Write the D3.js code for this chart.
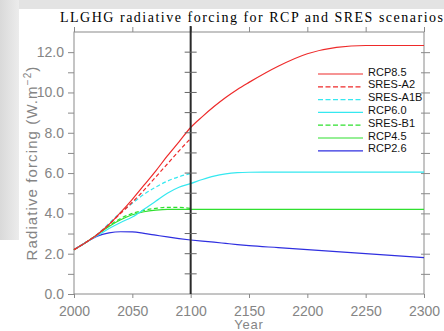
<!DOCTYPE html>
<html>
<head>
<meta charset="utf-8">
<script src="https://cdn.jsdelivr.net/npm/d3@7"></script>
<style>
  body { margin: 0; background: #fff; }
  svg { display: block; }
</style>
</head>
<body>
<svg id="chart" width="444" height="331"></svg>
<script>
// years for SRES (to 2100) and RCP (extended to 2300)
var years = [2000, 2010, 2020, 2030, 2040, 2050, 2060, 2070, 2080, 2090, 2100];
var yearsExt = [2110, 2120, 2130, 2140, 2150, 2175, 2200, 2225, 2250, 2275, 2300];
var rcpYears = years.concat(yearsExt);

var rcp85 = [2.2, 2.55, 2.95, 3.45, 4.05, 4.7, 5.4, 6.1, 6.85, 7.55, 8.26, 8.8, 9.3, 9.75, 10.15, 10.5, 11.3, 11.92, 12.24, 12.33, 12.33, 12.33];
var rcp60 = [2.2, 2.55, 2.9, 3.25, 3.55, 3.82, 4.2, 4.6, 5.0, 5.3, 5.48, 5.68, 5.85, 5.96, 6.02, 6.04, 6.05, 6.05, 6.05, 6.05, 6.05, 6.05];
var rcp45 = [2.2, 2.55, 2.95, 3.35, 3.68, 3.93, 4.08, 4.16, 4.2, 4.2, 4.2, 4.2, 4.2, 4.2, 4.2, 4.2, 4.2, 4.2, 4.2, 4.2, 4.2, 4.2];
var rcp26 = [2.2, 2.55, 2.87, 3.03, 3.09, 3.08, 3.01, 2.92, 2.83, 2.75, 2.68, 2.62, 2.57, 2.51, 2.45, 2.4, 2.3, 2.2, 2.1, 2.0, 1.9, 1.8];
var sresA2 = [2.2, 2.55, 2.95, 3.45, 4.0, 4.55, 5.15, 5.8, 6.45, 7.1, 7.72];
var sresA1B = [2.2, 2.55, 2.97, 3.5, 4.05, 4.5, 4.95, 5.3, 5.6, 5.82, 5.98];
var sresB1 = [2.2, 2.55, 2.95, 3.38, 3.75, 4.0, 4.15, 4.25, 4.3, 4.3, 4.25];

var xTicks = [2000, 2050, 2100, 2150, 2200, 2250, 2300];
var yTicks = [0, 1, 2, 3, 4, 5, 6, 7, 8, 9, 10, 11, 12];

var series = [
  {name: "RCP2.6",   x: rcpYears, v: rcp26,  color: "#2f2fe0", dash: null},
  {name: "RCP4.5",   x: rcpYears, v: rcp45,  color: "#2fe02f", dash: null},
  {name: "SRES-B1",  x: years,    v: sresB1, color: "#2fe02f", dash: "4,2.5"},
  {name: "RCP6.0",   x: rcpYears, v: rcp60,  color: "#35e8f0", dash: null},
  {name: "SRES-A1B", x: years,    v: sresA1B,color: "#35e8f0", dash: "4,2.5"},
  {name: "SRES-A2",  x: years,    v: sresA2, color: "#ee2a2a", dash: "4,2.5"},
  {name: "RCP8.5",   x: rcpYears, v: rcp85,  color: "#ee2a2a", dash: null}
];
var legendOrder = ["RCP8.5", "SRES-A2", "SRES-A1B", "RCP6.0", "SRES-B1", "RCP4.5", "RCP2.6"];

var svg = d3.select("#chart");

// page background (grey slide edge)
var defs = svg.append("defs");
var grad = defs.append("linearGradient").attr("id", "edge").attr("x1", 0).attr("x2", 1);
grad.append("stop").attr("offset", 0).attr("stop-color", "#d9d9d9");
grad.append("stop").attr("offset", 1).attr("stop-color", "#ececec");
svg.append("rect").attr("x", 0).attr("y", 0).attr("width", 444).attr("height", 331).attr("fill", "#fff");
svg.append("rect").attr("x", 0).attr("y", 0).attr("width", 444).attr("height", 9).attr("fill", "#e3e3e3");
svg.append("rect").attr("x", 0).attr("y", 0).attr("width", 19).attr("height", 240).attr("fill", "url(#edge)");

var pL = 74, pR = 424, pT = 32, pB = 294;
var x = d3.scaleLinear().domain([2000, 2300]).range([pL, pR]);
var y = d3.scaleLinear().domain([0, 13]).range([pB, pT]);

var axisColor = "#8a8a8a";
var labelFont = "'Liberation Sans', Arial, sans-serif";

// left axis
var gl = svg.append("g").attr("transform", "translate(" + pL + ",0)")
  .call(d3.axisLeft(y).tickValues(yTicks).tickSize(6).tickPadding(4)
    .tickFormat(function(d){ return d % 2 === 0 ? d3.format(".1f")(d) : ""; }));
// right axis
var gr = svg.append("g").attr("transform", "translate(" + pR + ",0)")
  .call(d3.axisRight(y).tickValues(yTicks.slice(1)).tickSize(6).tickFormat(""));
gr.selectAll(".tick line").attr("x1", -3);
// bottom axis
var gb = svg.append("g").attr("transform", "translate(0," + pB + ")")
  .call(d3.axisBottom(x).tickValues(xTicks).tickSize(4).tickPadding(8).tickFormat(d3.format("d")));
// top axis
var gt = svg.append("g").attr("transform", "translate(0," + pT + ")")
  .call(d3.axisTop(x).tickValues(xTicks).tickSize(5).tickFormat(""));

[gl, gr, gb, gt].forEach(function(g){
  g.select(".domain").remove();
  g.selectAll(".tick line").attr("stroke", axisColor);
  g.selectAll("text").attr("fill", "#858585").attr("font-size", 14).attr("font-family", labelFont);
});
gb.selectAll("text").attr("dy", "0.72em");

// frame
svg.append("rect").attr("x", pL).attr("y", pT).attr("width", pR - pL).attr("height", pB - pT)
  .attr("fill", "none").attr("stroke", axisColor).attr("stroke-width", 1);

// series lines
var line = d3.line().curve(d3.curveMonotoneX);
svg.append("g").selectAll("path")
  .data(series)
  .enter()
  .append("path")
    .attr("d", function(s){
      return line(s.x.map(function(yr, i){ return [x(yr), y(s.v[i])]; }));
    })
    .attr("fill", "none")
    .attr("stroke", function(s){ return s.color; })
    .attr("stroke-width", 1.2)
    .attr("stroke-dasharray", function(s){ return s.dash; });

// 2100 marker line with ticks
svg.append("line")
  .attr("x1", x(2100)).attr("x2", x(2100))
  .attr("y1", pT - 6).attr("y2", pB)
  .attr("stroke", "#2a2a2a").attr("stroke-width", 2);
svg.append("g").selectAll("line")
  .data(yTicks.slice(1))
  .enter()
  .append("line")
    .attr("x1", x(2100) - 6).attr("x2", x(2100) + 6)
    .attr("y1", function(d){ return y(d); }).attr("y2", function(d){ return y(d); })
    .attr("stroke", "#666");

// title
svg.append("text")
  .attr("x", 60).attr("y", 21.5)
  .attr("textLength", 383).attr("lengthAdjust", "spacing")
  .attr("font-family", "'Liberation Serif', 'Times New Roman', serif")
  .attr("font-size", 14).attr("fill", "#000")
  .text("LLGHG radiative forcing for RCP and SRES scenarios");

// axis titles
svg.append("text")
  .attr("x", x(2150)).attr("y", 328.5)
  .attr("text-anchor", "middle")
  .attr("font-family", labelFont).attr("font-size", 13).attr("fill", "#858585")
  .attr("letter-spacing", 0.8)
  .text("Year");

var yt = svg.append("text")
  .attr("transform", "translate(37,163) rotate(-90)")
  .attr("text-anchor", "middle")
  .attr("font-family", labelFont).attr("font-size", 15).attr("fill", "#858585")
  .attr("letter-spacing", 1.1);
yt.append("tspan").text("Radiative forcing (W.m");
yt.append("tspan").attr("dy", -6).attr("font-size", 10).text("\u22122");
yt.append("tspan").attr("dy", 6).text(")");

// legend
var lg = svg.append("g").selectAll("g")
  .data(legendOrder.map(function(n){ return series.find(function(s){ return s.name === n; }); }))
  .enter()
  .append("g")
    .attr("transform", function(d, i){ return "translate(318," + (74 + i * 12.8) + ")"; });
lg.append("line")
  .attr("x1", 0).attr("x2", 45)
  .attr("stroke", function(d){ return d.color; })
  .attr("stroke-width", 1.2)
  .attr("stroke-dasharray", function(d){ return d.dash ? "5,2.5" : null; });
lg.append("text")
  .attr("x", 50).attr("y", 1.5)
  .attr("font-family", labelFont).attr("font-size", 11).attr("fill", "#111")
  .text(function(d){ return d.name; });
</script>
</body>
</html>
